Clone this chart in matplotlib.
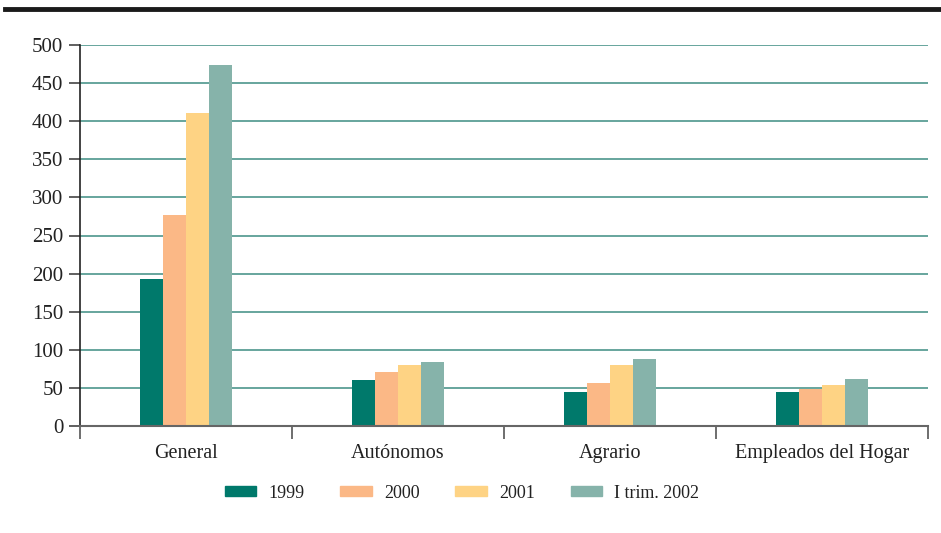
import matplotlib.pyplot as plt
import numpy as np
from matplotlib.patches import Patch

plt.rcParams['font.family'] = ['Liberation Serif', 'DejaVu Serif']

# data
categories = ['General', 'Autónomos', 'Agrario', 'Empleados del Hogar']
series = ['1999', '2000', '2001', 'I trim. 2002']
v1999 = [193, 60, 44, 45]
v2000 = [277, 71, 57, 49]
v2001 = [411, 80, 80, 54]
v2002 = [474, 84, 88, 62]
values = [v1999, v2000, v2001, v2002]
colors = ['#00796b', '#fbb886', '#fed384', '#86b3aa']

fig = plt.figure(figsize=(9.41, 5.33), dpi=100)
ax = fig.add_axes([80 / 941, 1 - 426 / 533, 848 / 941, 381 / 533])

x = np.arange(len(categories))
w = 0.108
for i, (vals, c) in enumerate(zip(values, colors)):
    ax.bar(x + (i - 1.5) * w, vals, width=w, color=c, zorder=3, label=series[i])

ax.set_xlim(-0.5, 3.5)
ax.set_ylim(0, 500)
ax.set_yticks(range(0, 501, 50))
for yv in range(50, 501, 50):
    ax.axhline(yv, color='#5a9e95', lw=1.3, zorder=1)

ax.set_xticks(np.arange(-0.5, 4, 1))
ax.set_xticklabels([])
ax.set_xticks(x, minor=True)
ax.set_xticklabels(categories, minor=True)
ax.tick_params(axis='x', which='major', direction='out', length=9, width=1.2, color='#555555')
ax.tick_params(axis='x', which='minor', length=0, pad=13, labelsize=14.5, labelcolor='#222222')
ax.tick_params(axis='y', direction='out', length=8, width=1.2, color='#444444', labelsize=15,
               pad=4, labelcolor='#222222')

for s in ['top', 'right']:
    ax.spines[s].set_visible(False)
ax.spines['left'].set_color('#222222')
ax.spines['left'].set_linewidth(1.2)
ax.spines['bottom'].set_color('#666666')
ax.spines['bottom'].set_linewidth(1.5)
ax.spines['bottom'].set_zorder(4)

handles = [Patch(color=c) for c in colors]
fig.legend(handles, series, loc='center', bbox_to_anchor=(462 / 941, 1 - 493 / 533), ncol=4,
           frameon=False, fontsize=13, handlelength=1.75, handleheight=0.4,
           columnspacing=2.0, handletextpad=0.65, labelcolor='#222222')

# black rule at the top
fig.add_artist(plt.Line2D([5 / 941, 1], [1 - 9 / 533, 1 - 9 / 533], color='#1a1a1a', lw=3.5))

fig.savefig('out.png', dpi=100)
